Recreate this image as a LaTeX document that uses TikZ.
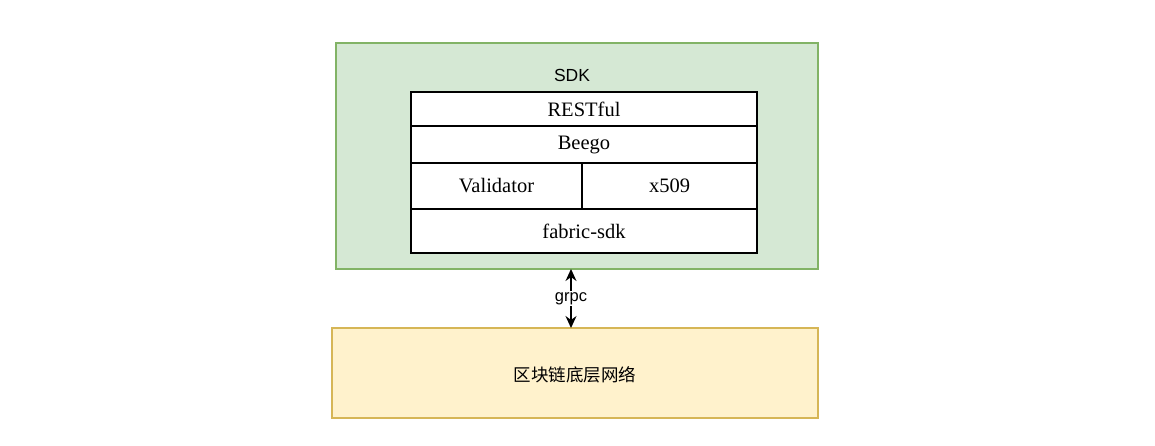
\documentclass[tikz,border=0pt]{standalone}
\usepackage{fontspec}
\setmainfont{Liberation Serif}
\setsansfont{Liberation Sans}
\newfontfamily\cjk{Noto Sans CJK SC}
\usetikzlibrary{arrows.meta}
\definecolor{gfill}{HTML}{D5E8D4}
\definecolor{gline}{HTML}{82B366}
\definecolor{yfill}{HTML}{FFF2CC}
\definecolor{yline}{HTML}{D6B656}
\begin{document}
\begin{tikzpicture}[x=1pt,y=-1pt,
  cell/.style={draw=black,fill=white,line width=1.1pt,minimum height=#1,inner sep=0pt,font=\fontsize{20.5}{23}\selectfont},
  outer/.style={line width=1.3pt}]
\useasboundingbox (0,0) rectangle (1155,445);
\node[outer,draw=gline,fill=gfill,minimum width=482pt,minimum height=226pt,inner sep=0pt] (sdk) at (577,156) {};
\node[font=\sffamily\fontsize{17.5}{20}\selectfont] (sdklabel) at (572,75) {SDK};
\node[cell=34pt,minimum width=346pt] (rest) at (584,109) {RESTful};
\node[cell=37pt,minimum width=346pt] (beego) at (584,144.5) {\raisebox{-2pt}{Beego}};
\node[cell=46pt,minimum width=171pt] (valid) at (496.5,186) {Validator};
\node[cell=46pt,minimum width=175pt] (x509) at (669.5,186) {x509};
\node[cell=44pt,minimum width=346pt] (fabric) at (584,231) {fabric-sdk};
\node[outer,draw=yline,fill=yfill,minimum width=486pt,minimum height=90pt,inner sep=0pt] (net) at (575,373) {};
\node[font=\cjk\fontsize{17.5}{20}\selectfont] (netlabel) at (575,375) {区块链底层网络};
\coordinate (top) at (571,269);
\coordinate (bot) at (571,328);
\draw[line width=1.3pt,{Stealth[length=12pt,width=11pt]}-{Stealth[length=12pt,width=11pt]}] (top) -- (bot) node[midway,fill=white,inner sep=1.5pt,font=\sffamily\fontsize{16.5}{19}\selectfont] (grpc) {grpc};
\end{tikzpicture}
\end{document}
